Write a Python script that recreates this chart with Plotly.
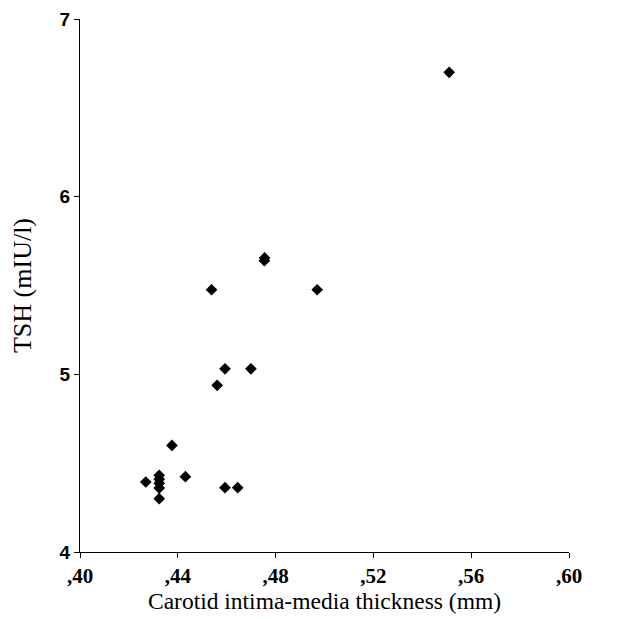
import plotly.graph_objects as go

cimt = [0.551, 0.4376, 0.4269, 0.4324, 0.4324, 0.4324, 0.4324, 0.4324, 0.4431,
        0.4593, 0.4645, 0.4754, 0.4755, 0.4538, 0.4970, 0.4593, 0.4699, 0.4561]
tsh = [6.70, 4.60, 4.394, 4.432, 4.41, 4.387, 4.36, 4.30, 4.424,
       4.362, 4.362, 5.64, 5.655, 5.476, 5.476, 5.031, 5.031, 4.938]

x_tickvals = [0.40, 0.44, 0.48, 0.52, 0.56, 0.60]
x_ticktext = [",40", ",44", ",48", ",52", ",56", ",60"]
y_tickvals = [4, 5, 6, 7]
y_ticktext = ["4", "5", "6", "7"]

fig = go.Figure()
fig.add_trace(go.Scatter(
    x=cimt, y=tsh, mode="markers",
    marker=dict(symbol="diamond", size=9, color="black"),
    showlegend=False,
))

axis_common = dict(
    showline=True, linecolor="black", linewidth=1,
    ticks="outside", ticklen=5, tickcolor="black", tickwidth=1,
    showgrid=False, zeroline=False, automargin=False,
)

fig.update_layout(
    width=616, height=611,
    margin=dict(l=72, r=55, t=11, b=67),
    paper_bgcolor="white", plot_bgcolor="white",
    xaxis=dict(
        range=[0.40, 0.60], tickvals=x_tickvals,
        ticktext=["<b>" + t + "</b>" for t in x_ticktext],
        tickfont=dict(family="Liberation Serif", size=21, color="black"),
        title=dict(text="Carotid intima-media thickness (mm)",
                   font=dict(family="Liberation Serif", size=23.5, color="black"),
                   standoff=0),
        **axis_common,
    ),
    yaxis=dict(
        range=[4, 7], tickvals=y_tickvals,
        ticktext=["<b>" + t + "</b>" for t in y_ticktext],
        tickfont=dict(family="Liberation Sans", size=19, color="black"),
        title=dict(text="TSH (mIU/l)",
                   font=dict(family="Liberation Serif", size=26, color="black"),
                   standoff=22),
        **axis_common,
    ),
)

fig.write_html("out.html")
